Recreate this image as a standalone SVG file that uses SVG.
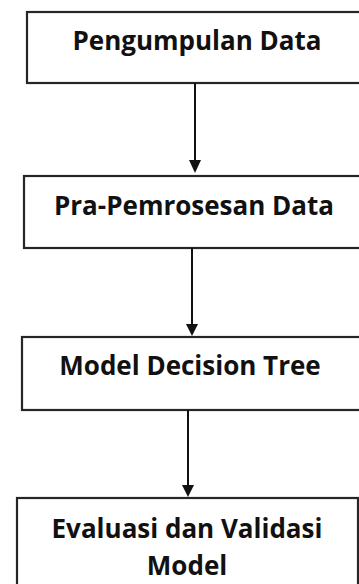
<svg xmlns="http://www.w3.org/2000/svg" width="359" height="584" viewBox="0 0 359 584">
<style>
.box{fill:#fff;stroke:#262626;stroke-width:2.2}
.t{font-family:"Open Sans","Liberation Sans",sans-serif;font-weight:bold;font-size:26px;fill:#111;text-anchor:middle}
.c{stroke:#111;stroke-width:2;fill:none}
.h{fill:#111}
</style>
<rect width="359" height="584" fill="#fff"/>
<g id="n1"><rect class="box" x="27" y="12" width="345" height="71"/><text class="t" x="197" y="50">Pengumpulan Data</text></g>
<g id="n2"><rect class="box" x="24" y="176" width="345" height="72"/><text class="t" x="194" y="215">Pra-Pemrosesan Data</text></g>
<g id="n3"><rect class="box" x="22" y="337" width="345" height="73"/><text class="t" x="190" y="375">Model Decision Tree</text></g>
<g id="n4"><rect class="box" x="17" y="498" width="341" height="100"/><text class="t" x="187" y="538">Evaluasi dan Validasi</text><text class="t" x="187" y="575">Model</text></g>
<g id="connectors">
<line class="c" x1="195" y1="83" x2="195" y2="162"/><polygon class="h" points="189,160 201,160 195,173"/>
<line class="c" x1="192" y1="248" x2="192" y2="326"/><polygon class="h" points="186,324 198,324 192,336"/>
<line class="c" x1="188" y1="410" x2="188" y2="487"/><polygon class="h" points="182,485 194,485 188,497"/>
</g>
</svg>
